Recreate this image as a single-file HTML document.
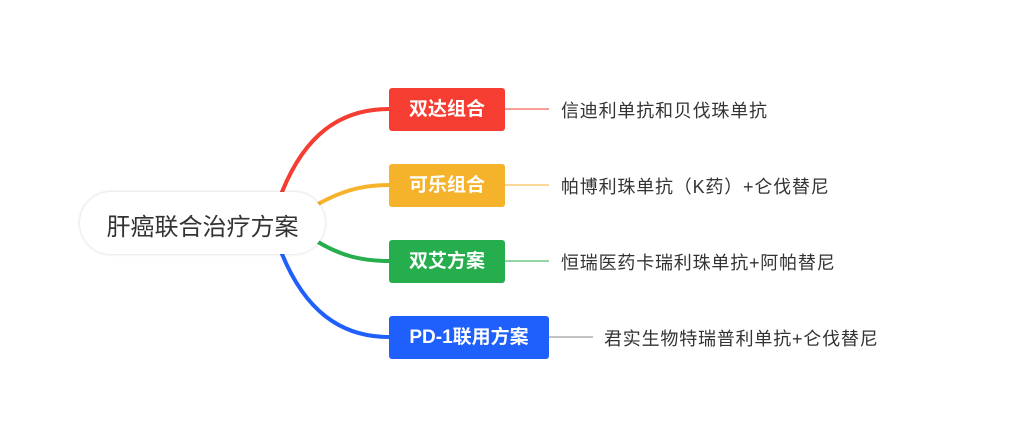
<!DOCTYPE html>
<html><head><meta charset="utf-8"><style>
body{margin:0;width:1014px;height:443px;background:#fff;position:relative;overflow:hidden;font-family:"Liberation Sans","Noto Sans CJK SC",sans-serif}
.root{position:absolute;left:80px;top:192px;width:245px;height:62px;border-radius:31px;background:#fff;box-shadow:0 0 3px rgba(0,0,0,.18);text-align:center;line-height:72px;font-size:24px;color:#333}
.b{position:absolute;left:389px;height:43px;border-radius:3px;color:#fff;font-weight:bold;font-size:19px;line-height:43px;text-align:center}
.l{position:absolute;font-size:18px;letter-spacing:0.8px;color:#333;line-height:22px}
</style></head><body>
<svg width="1014" height="443" style="position:absolute;left:0;top:0">
<g fill="none" stroke-width="4" stroke-linecap="round">
<path d="M282 192 C305 135 340 109 389 109" stroke="#f63d31"/>
<path d="M318 204 C340 192 360 185 389 185" stroke="#f5b22b"/>
<path d="M318 242 C340 255 360 261 389 261" stroke="#26ad4d"/>
<path d="M282 254 C305 310 340 337 389 337" stroke="#1f5ffb"/>
</g>
<g stroke-width="1">
<line x1="505" y1="109" x2="549" y2="109" stroke="#f63d31"/>
<line x1="505" y1="185" x2="549" y2="185" stroke="#f5b22b"/>
<line x1="505" y1="261" x2="549" y2="261" stroke="#26ad4d"/>
<line x1="549" y1="337" x2="593" y2="337" stroke="#888"/>
</g>
</svg>
<div class="root">肝癌联合治疗方案</div>
<div class="b" style="top:88px;width:116px;background:#f63d31">双达组合</div>
<div class="b" style="top:164px;width:116px;background:#f5b22b">可乐组合</div>
<div class="b" style="top:240px;width:116px;background:#26ad4d">双艾方案</div>
<div class="b" style="top:316px;width:160px;background:#1f5ffb">PD-1联用方案</div>
<div class="l" style="left:561px;top:100px">信迪利单抗和贝伐珠单抗</div>
<div class="l" style="left:561px;top:176px">帕博利珠单抗（K药）+仑伐替尼</div>
<div class="l" style="left:561px;top:252px">恒瑞医药卡瑞利珠单抗+阿帕替尼</div>
<div class="l" style="left:604px;top:328px">君实生物特瑞普利单抗+仑伐替尼</div>
</body></html>
